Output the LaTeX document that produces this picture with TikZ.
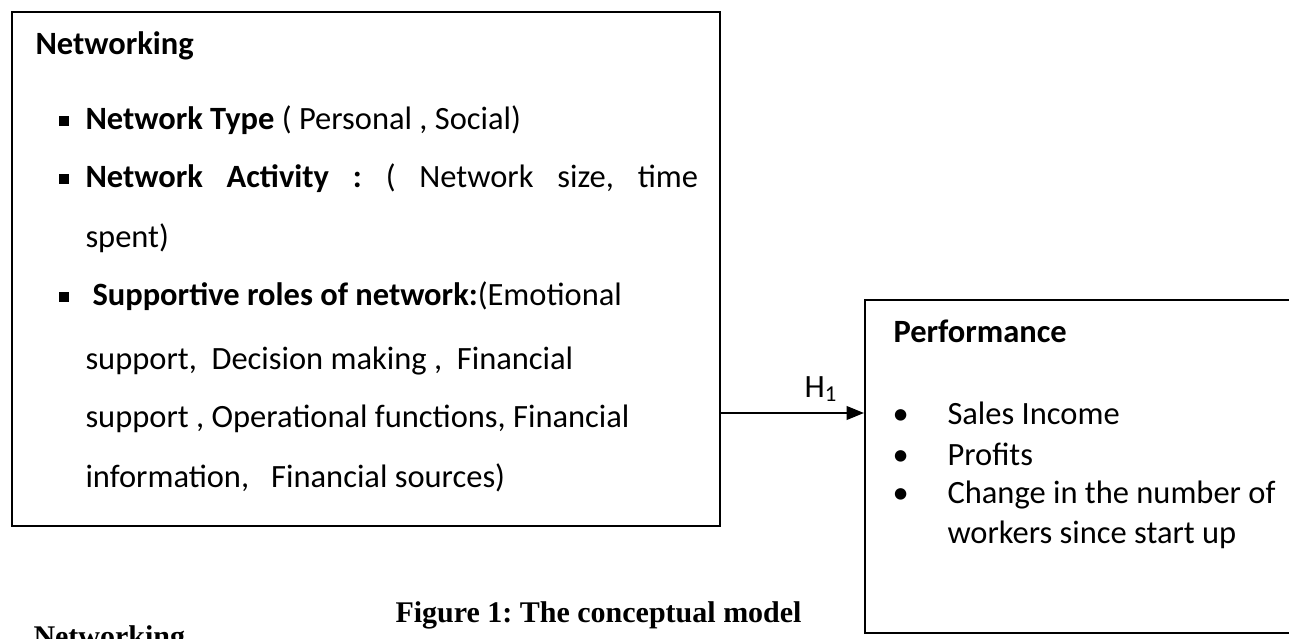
\documentclass[tikz,border=0pt]{standalone}
\usepackage{fontspec}
\setmainfont{Carlito}
\newfontfamily\capfont{Liberation Serif}
\usetikzlibrary{arrows.meta}
\newcommand{\sqbullet}{\rule[1.6pt]{4pt}{4pt}}
\frenchspacing

\begin{document}
\begin{tikzpicture}[x=0.4pt, y=-0.4pt,
    font=\fontsize{13pt}{15.6pt}\selectfont,
    every node/.style={inner sep=0pt},
    txt/.style={anchor=base west},
    box/.style={draw, line width=0.8pt},
    serifbold/.style={font=\capfont\fontsize{12pt}{14pt}\selectfont\bfseries}]
  \useasboundingbox (0,0) rectangle (1289,639);
  % left box
  \node[box, minimum width=283.2pt, minimum height=205.6pt] (net) at (366,269) {};
  \node[txt] (nethead) at (35,55) {\textbf{Networking}};
  \node[txt] (nb1) at (58,130) {\sqbullet};
  \node[txt] (nt1) at (85,130) {\textbf{Network Type} ( Personal , Social)};
  \node[txt] (nb2) at (58,188) {\sqbullet};
  \node[txt] (nt2) at (85,188) {\makebox[245pt][s]{\textbf{Network Activity :} ( Network size, time}};
  \node[txt] (nt3) at (85,248) {spent)};
  \node[txt] (nb3) at (58,306) {\sqbullet};
  \node[txt] (nt4) at (92,306) {\textbf{Supportive roles of network:}(Emotional};
  \node[txt] (nt5) at (85,370) {support,~ Decision making ,~ Financial};
  \node[txt] (nt6) at (85,428) {support , Operational functions, Financial};
  \node[txt] (nt7) at (85,488) {information,~~ Financial sources)};
  % right box, open past the page edge
  \node[box, minimum width=180pt, minimum height=133.2pt] (perf) at (1090,466.5) {};
  \node[txt] (perfhead) at (893,342) {\textbf{Performance}};
  \node[txt] (pb1) at (892,425) {\textbullet};
  \node[txt] (pt1) at (947,425) {Sales Income};
  \node[txt] (pb2) at (892,465) {\textbullet};
  \node[txt] (pt2) at (947,465) {Profits};
  \node[txt] (pb3) at (892,503) {\textbullet};
  \node[txt] (pt3) at (947,503) {Change in the number of};
  \node[txt] (pt4) at (947,543) {workers since start up};
  % link
  \coordinate (lvl) at (0,413);
  \draw[-{Triangle[length=7pt,width=5.5pt]}, line width=0.8pt] (net.east |- lvl) -- (perf.west |- lvl)
    node[pos=0.7, above=4pt] (h1) {H\textsubscript{1}};
  \node[txt, serifbold] (cap) at (395,622) {Figure 1: The conceptual model};
  \node[txt, serifbold] (sec) at (33,647) {Networking};
\end{tikzpicture}
\end{document}
